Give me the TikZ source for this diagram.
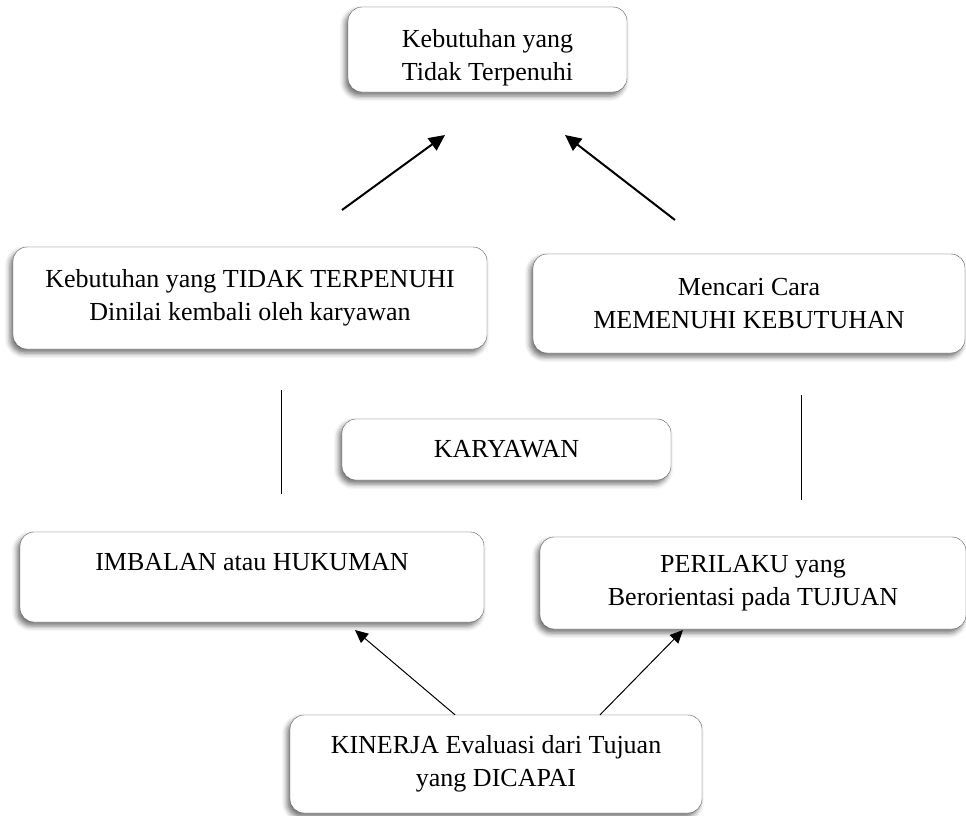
\documentclass[tikz,border=0pt]{standalone}
\usepackage{fontspec}
\setmainfont{Liberation Serif}
\usetikzlibrary{positioning, arrows.meta, shadows.blur}
\tikzset{
  box/.style={
    draw=black!65,
    rectangle,
    rounded corners=14pt,
    inner sep=0pt,
    align=center,
    fill=white,
    font=\fontsize{26}{33}\selectfont,
    blur shadow={shadow xshift=-3pt, shadow yshift=-4pt, shadow blur radius=5pt, shadow opacity=55}
  },
  bigarrow/.style={
    line width=2pt,
    -{Triangle[length=16pt, width=15pt]}
  },
  smallarrow/.style={
    line width=1pt,
    -{Triangle[length=13pt, width=12pt]}
  }
}

\begin{document}
\begin{tikzpicture}[x=1pt, y=-1pt]
    \useasboundingbox (0,0) rectangle (966,815);

    \node[box, minimum width=279pt, minimum height=85pt] (need) at (487.5,49.5) {\rule{0pt}{34pt}Kebutuhan yang\\Tidak Terpenuhi};
    \node[box, minimum width=474pt, minimum height=102pt] (nilai) at (250,298) {Kebutuhan yang TIDAK TERPENUHI\\Dinilai kembali oleh karyawan};
    \node[box, minimum width=432pt, minimum height=99pt] (cara) at (749,303.5) {Mencari Cara\\MEMENUHI KEBUTUHAN};
    \node[box, minimum width=329pt, minimum height=61pt] (karyawan) at (506.5,449.5) {KARYAWAN};
    \node[box, minimum width=464pt, minimum height=90pt] (imbalan) at (252,577) {IMBALAN atau HUKUMAN\\[-12pt]\strut};
    \node[box, minimum width=426pt, minimum height=92pt] (perilaku) at (753,583) {PERILAKU yang\\Berorientasi pada TUJUAN};
    \node[box, minimum width=412pt, minimum height=98pt] (kinerja) at (496,764) {KINERJA Evaluasi dari Tujuan\\yang DICAPAI};

    \coordinate (nilaiup) at (342,210);
    \coordinate (needleft) at (445,135);
    \coordinate (caraup) at (675,220);
    \coordinate (needright) at (565,135);
    \coordinate (imbalanend) at (355,630);
    \coordinate (perilakuend) at (683,630);
    \coordinate (leftup) at (281,390);
    \coordinate (leftdown) at (281,494);
    \coordinate (rightup) at (801,395);
    \coordinate (rightdown) at (801,500);

    \draw[bigarrow] (nilaiup) -- (needleft);
    \draw[bigarrow] (caraup) -- (needright);
    \draw[smallarrow] ([xshift=-41pt]kinerja.north) -- (imbalanend);
    \draw[smallarrow] ([xshift=104pt]kinerja.north) -- (perilakuend);
    \draw[line width=1pt] (leftup) -- (leftdown);
    \draw[line width=1pt] (rightup) -- (rightdown);
\end{tikzpicture}
\end{document}
